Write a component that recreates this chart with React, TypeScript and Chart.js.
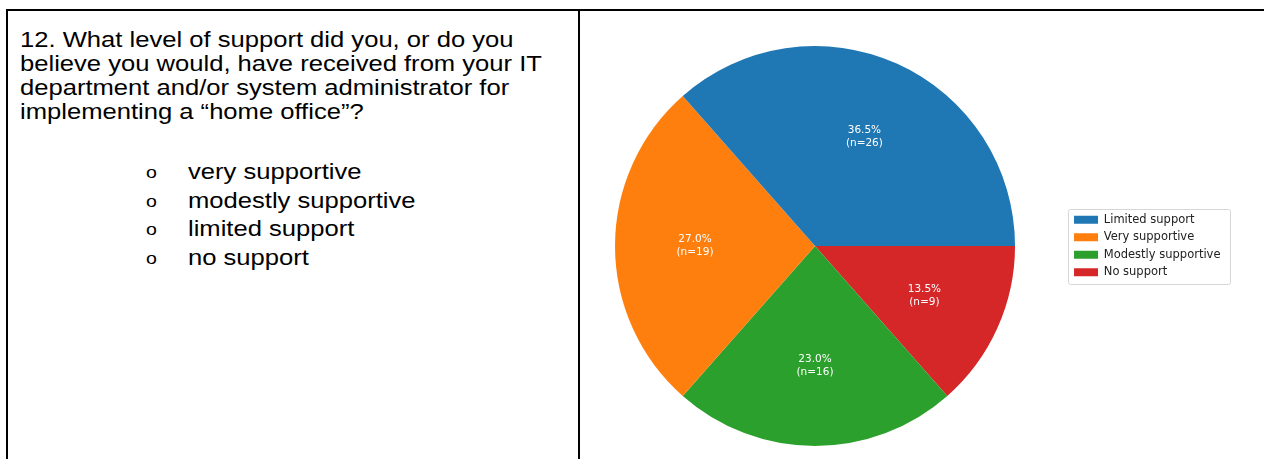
import React, { useEffect, useRef } from 'react';
import { Chart, registerables } from 'chart.js';

Chart.register(...registerables);

// ---- data ----
const categories = ['Limited support', 'Very supportive', 'Modestly supportive', 'No support'];
const percents = [36.5, 27.0, 23.0, 13.5];
const counts = [26, 19, 16, 9];
const sliceColors = ['#1f77b4', '#ff7f0e', '#2ca02c', '#d62728'];

const questionLines = [
  '12. What level of support did you, or do you',
  'believe you would, have received from your IT',
  'department and/or system administrator for',
  'implementing a \u201chome office\u201d?',
];
const answerOptions = ['very supportive', 'modestly supportive', 'limited support', 'no support'];

// matplotlib draws counter-clockwise from 3 o'clock; Chart.js draws clockwise,
// so the series is fed in reverse order and the legend is reversed back.
const chartLabels = [...categories].reverse();
const chartValues = [...percents].reverse();
const chartCounts = [...counts].reverse();
const chartColors = [...sliceColors].reverse();

const sliceLabels = {
  id: 'sliceLabels',
  afterDatasetsDraw(chart: any) {
    const meta = chart.getDatasetMeta(0);
    const ctx = chart.ctx;
    ctx.save();
    ctx.font = '10.5px "DejaVu Sans"';
    ctx.fillStyle = '#ffffff';
    ctx.textAlign = 'center';
    ctx.textBaseline = 'middle';
    meta.data.forEach((arc: any, i: number) => {
      const p = arc.getProps(['x', 'y', 'startAngle', 'endAngle', 'outerRadius'], true);
      const mid = (p.startAngle + p.endAngle) / 2;
      const r = p.outerRadius * 0.6;
      const cx = p.x + Math.cos(mid) * r;
      const cy = p.y + Math.sin(mid) * r;
      ctx.fillText(`${chartValues[i].toFixed(1)}%`, cx, cy - 6.5);
      ctx.fillText(`(n=${chartCounts[i]})`, cx, cy + 6.5);
    });
    ctx.restore();
  },
};

const legendFrame = {
  id: 'legendFrame',
  beforeDraw(chart: any) {
    const hb = chart.legend && chart.legend.legendHitBoxes;
    if (!hb || !hb.length) return;
    const left = Math.min(...hb.map((h: any) => h.left)) - 6;
    const top = Math.min(...hb.map((h: any) => h.top)) - 5.5;
    const right = Math.max(...hb.map((h: any) => h.left + h.width)) + 10;
    const bottom = Math.max(...hb.map((h: any) => h.top + h.height)) + 5.5;
    const ctx = chart.ctx;
    ctx.save();
    ctx.beginPath();
    ctx.roundRect(Math.round(left) + 0.5, Math.round(top) + 0.5, Math.round(right - left), Math.round(bottom - top), 2);
    ctx.fillStyle = '#ffffff';
    ctx.fill();
    ctx.strokeStyle = '#d6d6d6';
    ctx.lineWidth = 1;
    ctx.stroke();
    ctx.restore();
  },
};

function PieChart() {
  const ref = useRef<HTMLCanvasElement | null>(null);
  useEffect(() => {
    if (!ref.current) return;
    const chart = new Chart(ref.current, {
      type: 'pie',
      data: {
        labels: chartLabels,
        datasets: [
          {
            data: chartValues,
            backgroundColor: chartColors,
            borderWidth: 0,
            radius: 200,
          } as any,
        ],
      },
      options: {
        animation: false,
        responsive: true,
        maintainAspectRatio: false,
        rotation: 90,
        layout: { padding: { left: 62, right: 33.5, top: 22, bottom: 0 } },
        plugins: {
          legend: {
            position: 'right',
            reverse: true,
            labels: {
              boxWidth: 24,
              boxHeight: 8,
              padding: 6,
              color: '#222222',
              font: { family: '"DejaVu Sans"', size: 11.5 },
            },
          },
          tooltip: { enabled: false },
        },
      } as any,
      plugins: [sliceLabels, legendFrame],
    });
    return () => chart.destroy();
  }, []);
  return (
    <div style={{ position: 'absolute', left: 500, top: 11, width: 764, height: 448 }}>
      <canvas ref={ref} />
    </div>
  );
}

const textStretch: React.CSSProperties = {
  transform: 'scaleX(1.19)',
  transformOrigin: '0 50%',
  whiteSpace: 'nowrap',
  fontSize: 21.5,
};

export default function App() {
  const font = '"Liberation Sans", Arial, sans-serif';
  return (
    <div
      style={{
        position: 'absolute',
        left: 0,
        top: 0,
        width: 1264,
        height: 459,
        overflow: 'hidden',
        background: '#ffffff',
        fontFamily: font,
        color: '#000',
      }}
    >
      <div style={{ position: 'absolute', left: 6, top: 9, width: 1258, height: 2, background: '#000' }} />
      <div style={{ position: 'absolute', left: 6, top: 9, width: 2, height: 450, background: '#000' }} />
      <div style={{ position: 'absolute', left: 578, top: 9, width: 2, height: 450, background: '#000' }} />
      {questionLines.map((t, i) => (
        <div key={'q' + i} style={{ position: 'absolute', left: 20, top: 28 + i * 24, lineHeight: '24px', ...textStretch }}>
          {t}
        </div>
      ))}
      {answerOptions.map((t, i) => (
        <React.Fragment key={'a' + i}>
          <div style={{ position: 'absolute', left: 146, top: 159 + i * 28.7, fontSize: 17, lineHeight: '28px', transform: 'scaleX(1.15)', transformOrigin: '0 50%' }}>o</div>
          <div style={{ position: 'absolute', left: 188, top: 158 + i * 28.7, lineHeight: '28px', ...textStretch }}>
            {t}
          </div>
        </React.Fragment>
      ))}
      <PieChart />
    </div>
  );
}
